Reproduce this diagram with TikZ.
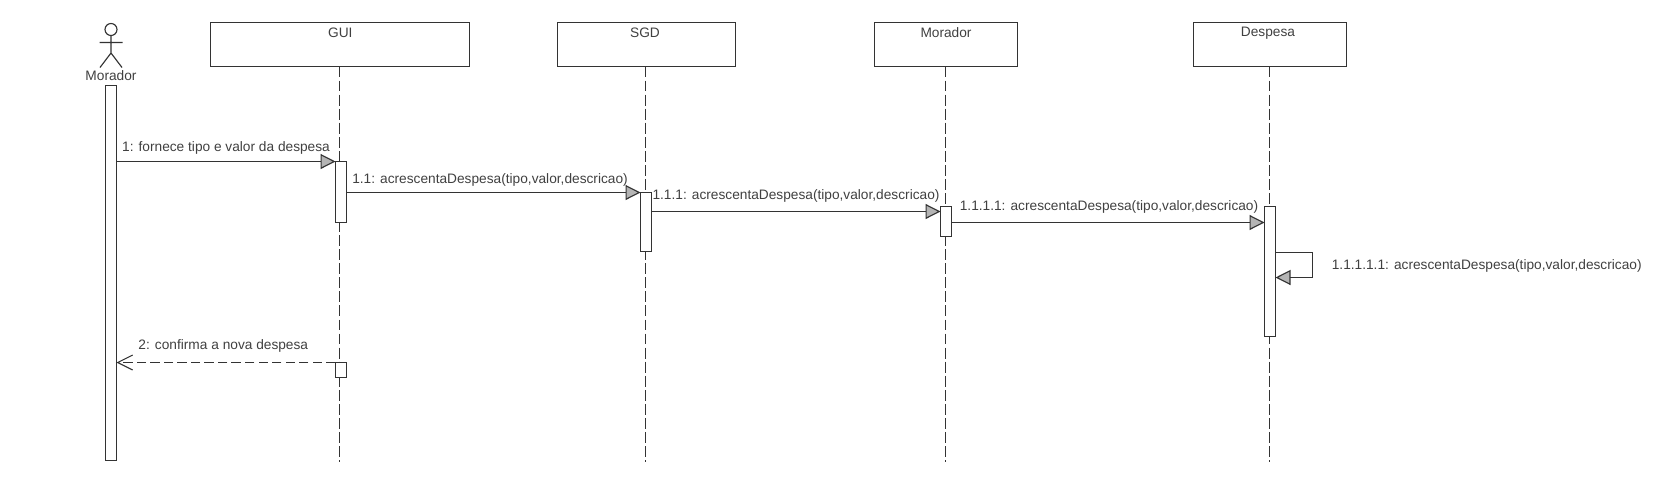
\documentclass[tikz,border=0pt]{standalone}
\usepackage{fontspec}
\setmainfont{Liberation Sans}
\usetikzlibrary{arrows.meta}
\definecolor{linecol}{HTML}{333333}
\definecolor{textcol}{HTML}{404040}
\definecolor{tipcol}{HTML}{B4B4B4}
\tikzset{
  lifehead/.style={draw=linecol,rectangle,line width=0.65pt,minimum height=0.88cm,inner sep=0pt,outer sep=0pt},
  bar/.style={draw=linecol,fill=white,rectangle,line width=0.65pt,minimum width=0.22cm,inner sep=0pt,outer sep=0pt},
  txt/.style={text=textcol,font=\fontsize{7.8}{9}\selectfont,inner sep=0pt},
  lifeline/.style={draw=linecol,line width=0.6pt,dash pattern=on 6.2pt off 1.8pt},
  msg/.style={draw=linecol,line width=0.65pt,-{Triangle[length=0.3cm,width=0.3cm,fill=tipcol]}},
  reply/.style={draw=linecol,line width=0.6pt,dash pattern=on 5.3pt off 2.4pt,-{Straight Barb[length=0.3cm,width=0.3cm,line width=0.6pt]}}
}
\begin{document}
\begin{tikzpicture}[x=0.02cm,y=-0.02cm]
  \useasboundingbox (0,0) rectangle (1665,494);
  % actor
  \node[draw=linecol,shape=circle,line width=0.65pt,minimum size=0.24cm,inner sep=0pt,outer sep=0pt] (actorhead) at (111,29.5) {};
  \coordinate (hip) at (111,53);
  \coordinate (armL) at (99.5,42.5);
  \coordinate (armR) at (122.5,42.5);
  \coordinate (legL) at (100,67.5);
  \coordinate (legR) at (122,67.5);
  \draw[draw=linecol,line width=0.65pt] (actorhead) -- (hip) -- (legL) (hip) -- (legR) (armL) -- (armR);
  \node[txt] (actorname) at (111,76) {Morador};
  % lifeline heads
  \node[lifehead,minimum width=5.18cm] (gui) at (340,44.5) {};
  \node[lifehead,minimum width=3.56cm] (sgd) at (646.5,44.5) {};
  \node[lifehead,minimum width=2.86cm] (mor) at (946,44.5) {};
  \node[lifehead,minimum width=3.06cm] (des) at (1270,44.5) {};
  \node[txt] (guiname) at (340.3,32.5) {GUI};
  \node[txt] (sgdname) at (645,32.5) {SGD};
  \node[txt] (morname) at (946,32.5) {Morador};
  \node[txt] (desname) at (1268,33.3) {Despesa};
  % lifelines
  \coordinate (guiend) at (339.6,462);
  \coordinate (sgdend) at (645.6,462);
  \coordinate (morend) at (945.6,462);
  \coordinate (desend) at (1269.6,462);
  \draw[lifeline] (guiend |- gui.south) -- (guiend);
  \draw[lifeline] (sgdend |- sgd.south) -- (sgdend);
  \draw[lifeline] (morend |- mor.south) -- (morend);
  \draw[lifeline] (desend |- des.south) -- (desend);
  % activation bars
  \node[bar,minimum height=7.5cm] (barA) at (111,273) {};
  \node[bar,minimum height=1.22cm] (barG) at (341,192) {};
  \node[bar,minimum height=0.3cm] (barH) at (341,370) {};
  \node[bar,minimum height=1.18cm] (barS) at (646,222) {};
  \node[bar,minimum height=0.6cm] (barM) at (946,221.5) {};
  \node[bar,minimum height=2.6cm] (barD) at (1270,271.5) {};
  % messages
  \coordinate (y111) at (0,211.5);
  \coordinate (y1111) at (0,222.5);
  \coordinate (loopA) at (1275,252.5);
  \coordinate (loopB) at (1312.5,252.5);
  \coordinate (loopC) at (1312.5,277.5);
  \coordinate (loopD) at (1275.5,277.5);
  \draw[msg] (barA.east |- barG.north) -- (barG.north west);
  \draw[msg] (barG.east |- barS.north) -- (barS.north west);
  \draw[msg] (barS.east |- y111) -- (barM.west |- y111);
  \draw[msg] (barM.east |- y1111) -- (barD.west |- y1111);
  \draw[msg] (loopA) -- (loopB) -- (loopC) -- (loopD);
  \draw[reply] (barH.north west) -- (barA.east |- barH.north);
  % message labels
  \node[txt] (m1) at (226,147.5) {1: fornece tipo e valor da despesa};
  \node[txt] (m11) at (490,179.5) {1.1: acrescentaDespesa(tipo,valor,descricao)};
  \node[txt] (m111) at (796,196) {1.1.1: acrescentaDespesa(tipo,valor,descricao)};
  \node[txt] (m1111) at (1109,207) {1.1.1.1: acrescentaDespesa(tipo,valor,descricao)};
  \node[txt] (m11111) at (1486.7,266) {1.1.1.1.1: acrescentaDespesa(tipo,valor,descricao)};
  \node[txt] (m2) at (223.3,346) {2: confirma a nova despesa};
\end{tikzpicture}
\end{document}
